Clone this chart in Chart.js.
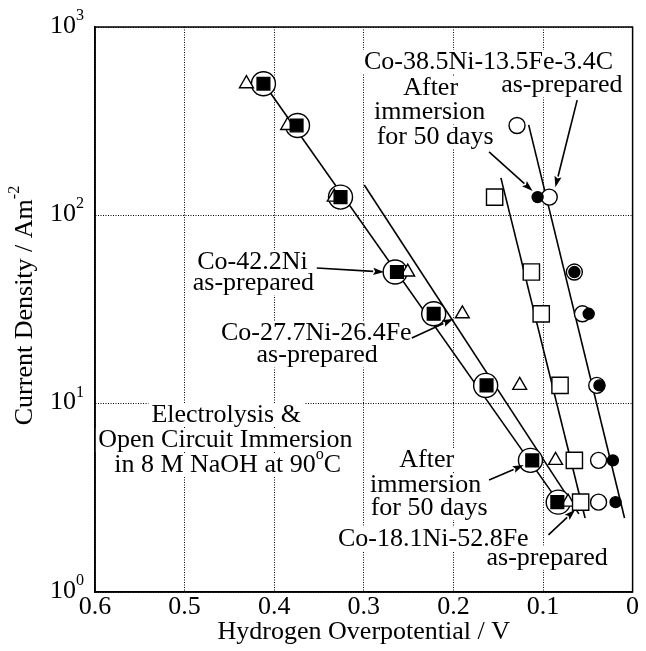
<!DOCTYPE html>
<html>
<head>
<meta charset="utf-8">
<script src="https://cdn.jsdelivr.net/npm/chart.js@4.4.1/dist/chart.umd.min.js"></script>
<style>
  html, body { margin: 0; padding: 0; background: #fff; }
</style>
</head>
<body>
<canvas id="tafel-chart" width="646" height="651"></canvas>
<script>
// Current density levels, A m^-2
const levels = [500, 300, 125, 50, 30, 12.5, 5, 3];

// Co-42.2Ni as-prepared (large open circles) / after 50 days immersion (filled squares)
const coNi42PrepX  = [0.412, 0.374, 0.326, 0.265, 0.222, 0.164, 0.114, 0.083];
const coNi42AfterX = [0.412, 0.375, 0.326, 0.263, 0.222, 0.163, 0.112, 0.084];

// Co-27.7Ni-26.4Fe as-prepared (open triangles)
const coNiFe27X = [0.431, 0.385, 0.333, 0.251, 0.190, 0.126, 0.086, 0.072];

// Co-18.1Ni-52.8Fe as-prepared (open squares)
const coNiFe18X = [0.154, 0.113, 0.102, 0.081, 0.065, 0.058];
const coNiFe18Y = [125, 50, 30, 12.5, 5, 3];

// Co-38.5Ni-13.5Fe-3.4C as-prepared (open circles) / after immersion (small filled circles)
const coNiFeCPrepX  = [0.129, 0.093, 0.065, 0.056, 0.040, 0.038, 0.038];
const coNiFeCPrepY  = [300, 125, 50, 30, 12.5, 5, 3];
const coNiFeCAfterX = [0.106, 0.065, 0.049, 0.037, 0.022, 0.019];
const coNiFeCAfterY = [125, 50, 30, 12.5, 5, 3];

// Tafel fit lines (two end points each)
const fitCoNiX    = [0.414, 0.079], fitCoNiY    = [520, 2.84];
const fitCoNiFeX  = [0.2995, 0.060], fitCoNiFeY = [145, 2.6];
const fitFe52X    = [0.147, 0.053], fitFe52Y    = [158, 2.47];
const fitCarbonX  = [0.116, 0.009], fitCarbonY  = [302, 2.47];

// axis tick labels
const xTicks = [0.6, 0.5, 0.4, 0.3, 0.2, 0.1, 0];
const yDecades = [1, 10, 100, 1000];

// annotation texts, anchored in data units (overpotential, current density)
const noteTexts = [
  { v: 0.1608, j: 652,  text: 'Co-38.5Ni-13.5Fe-3.4C' },
  { v: 0.079,  j: 490,  text: 'as-prepared' },
  { v: 0.2254, j: 474,  text: 'After' },
  { v: 0.2265, j: 354,  text: 'immersion' },
  { v: 0.2204, j: 261,  text: 'for 50 days' },
  { v: 0.4243, j: 56.5, text: 'Co-42.2Ni' },
  { v: 0.4232, j: 43.5, text: 'as-prepared' },
  { v: 0.353,  j: 23.7, text: 'Co-27.7Ni-26.4Fe' },
  { v: 0.352,  j: 18.0, text: 'as-prepared' },
  { v: 0.4536, j: 8.71, text: 'Electrolysis &' },
  { v: 0.4545, j: 6.41, text: 'Open Circuit Immersion' },
  { v: 0.452,  j: 4.72, text: 'in 8 M NaOH at 90^oC' },
  { v: 0.2298, j: 5.02, text: 'After' },
  { v: 0.2309, j: 3.70, text: 'immersion' },
  { v: 0.2271, j: 2.79, text: 'for 50 days' },
  { v: 0.2224, j: 1.91, text: 'Co-18.1Ni-52.8Fe' },
  { v: 0.0954, j: 1.52, text: 'as-prepared' }
];

const noteArrows = [
  { from: [0.1602, 217],  to: [0.1116, 134.6] },
  { from: [0.0619, 409],  to: [0.0862, 141] },
  { from: [0.3525, 52.5], to: [0.2773, 50.0] },
  { from: [0.2464, 22.3], to: [0.2000, 28.2] },
  { from: [0.1602, 3.93], to: [0.1215, 4.72] },
  { from: [0.0939, 2.01], to: [0.0641, 2.73] }
];

const FONT = '"Liberation Serif", "Times New Roman", serif';
const FS = 26;

function pts(xs, ys) {
  return xs.map((x, i) => ({ x: x, y: ys[i] }));
}

// split "text^sup" markup into parts
function parseRich(str) {
  const parts = [];
  const re = /\^(\S)/g;
  let last = 0, m;
  while ((m = re.exec(str)) !== null) {
    if (m.index > last) parts.push({ t: str.slice(last, m.index) });
    parts.push({ t: m[1], sup: true });
    last = m.index + m[0].length;
  }
  if (last < str.length) parts.push({ t: str.slice(last) });
  return parts;
}

function measureRich(ctx, parts, size) {
  let w = 0;
  parts.forEach(p => {
    ctx.font = (p.sup ? size * 0.62 : size) + 'px ' + FONT;
    p.w = ctx.measureText(p.t).width;
    w += p.w;
  });
  return w;
}

function drawRich(ctx, parts, x, y, size, align) {
  const w = measureRich(ctx, parts, size);
  let cx = align === 'right' ? x - w : (align === 'left' ? x : x - w / 2);
  ctx.textAlign = 'left';
  ctx.textBaseline = 'middle';
  parts.forEach(p => {
    ctx.font = (p.sup ? size * 0.62 : size) + 'px ' + FONT;
    ctx.fillText(p.t, cx, p.sup ? y - size * 0.4 : y);
    cx += p.w;
  });
  return w;
}

function drawArrow(ctx, x1, y1, x2, y2) {
  const ang = Math.atan2(y2 - y1, x2 - x1);
  const len = 11, half = 3.6;
  const bx = x2 - len * Math.cos(ang), by = y2 - len * Math.sin(ang);
  ctx.beginPath();
  ctx.moveTo(x1, y1);
  ctx.lineTo(bx, by);
  ctx.lineWidth = 1.6;
  ctx.strokeStyle = '#000';
  ctx.stroke();
  ctx.beginPath();
  ctx.moveTo(x2, y2);
  ctx.lineTo(bx - half * Math.sin(ang), by + half * Math.cos(ang));
  ctx.lineTo(bx + 2 * Math.cos(ang), by + 2 * Math.sin(ang));
  ctx.lineTo(bx + half * Math.sin(ang), by - half * Math.cos(ang));
  ctx.closePath();
  ctx.fillStyle = '#000';
  ctx.fill();
}

const annotationPlugin = {
  id: 'tafelNotes',
  beforeDatasetsDraw(chart) {
    const { ctx, scales: { x, y } } = chart;
    ctx.save();
    // white boxes first so the dotted grid stops at the labels
    noteTexts.forEach(n => {
      const px = x.getPixelForValue(n.v);
      const py = y.getPixelForValue(n.j);
      const w = measureRich(ctx, parseRich(n.text), FS);
      ctx.fillStyle = '#fff';
      ctx.fillRect(px - w / 2 - 3, py - 12, w + 6, 24);
    });
    ctx.fillStyle = '#000';
    noteTexts.forEach(n => {
      drawRich(ctx, parseRich(n.text), x.getPixelForValue(n.v), y.getPixelForValue(n.j), FS, 'center');
    });
    ctx.restore();
  },
  afterDraw(chart) {
    const { ctx, chartArea: a, scales: { x, y } } = chart;
    ctx.save();
    // frame
    ctx.strokeStyle = '#000';
    ctx.lineWidth = 1.5;
    ctx.strokeRect(a.left, a.top, a.right - a.left, a.bottom - a.top);

    // arrows
    noteArrows.forEach(ar => {
      drawArrow(ctx,
        x.getPixelForValue(ar.from[0]), y.getPixelForValue(ar.from[1]),
        x.getPixelForValue(ar.to[0]), y.getPixelForValue(ar.to[1]));
    });

    // y tick labels 10^n
    ctx.fillStyle = '#000';
    yDecades.forEach(d => {
      const py = y.getPixelForValue(d);
      const exp = Math.round(Math.log10(d));
      drawRich(ctx, [{ t: '10' }, { t: String(exp), sup: true }], a.left - 11, py - 1, FS, 'right');
    });

    // axis titles
    drawRich(ctx, [{ t: 'Hydrogen Overpotential / V' }], (a.left + a.right) / 2, 632, FS, 'center');
    ctx.translate(25, (a.top + a.bottom) / 2 - 4);
    ctx.rotate(-Math.PI / 2);
    drawRich(ctx, [{ t: 'Current Density / Am' }, { t: '-2', sup: true }], 0, 0, FS, 'center');
    ctx.restore();
  }
};

const markerBase = {
  showLine: false,
  pointBorderColor: '#000',
  pointBorderWidth: 1.4
};

const lineBase = {
  showLine: true,
  pointRadius: 0,
  borderColor: '#000',
  borderWidth: 1.6,
  order: 10
};

new Chart(document.getElementById('tafel-chart'), {
  type: 'scatter',
  data: {
    datasets: [
      Object.assign({ label: 'Co-42.2Ni after immersion', data: pts(coNi42AfterX, levels),
        pointStyle: 'rect', pointRadius: 9, pointBackgroundColor: '#000', order: 1 }, markerBase),
      Object.assign({ label: 'Co-38.5Ni-13.5Fe-3.4C after immersion', data: pts(coNiFeCAfterX, coNiFeCAfterY),
        pointStyle: 'circle', pointRadius: 5.5, pointBackgroundColor: '#000', order: 1 }, markerBase),
      Object.assign({ label: 'Co-38.5Ni-13.5Fe-3.4C as-prepared', data: pts(coNiFeCPrepX, coNiFeCPrepY),
        pointStyle: 'circle', pointRadius: 8, pointBackgroundColor: '#fff', order: 3 }, markerBase),
      Object.assign({ label: 'Co-18.1Ni-52.8Fe as-prepared', data: pts(coNiFe18X, coNiFe18Y),
        pointStyle: 'rect', pointRadius: 11.5, pointBackgroundColor: '#fff', order: 4 }, markerBase),
      Object.assign({ label: 'Co-27.7Ni-26.4Fe as-prepared', data: pts(coNiFe27X, levels),
        pointStyle: 'triangle', pointRadius: 8, pointBackgroundColor: '#fff', order: 4 }, markerBase),
      Object.assign({ label: 'Co-42.2Ni as-prepared', data: pts(coNi42PrepX, levels),
        pointStyle: 'circle', pointRadius: 12, pointBackgroundColor: '#fff', order: 5 }, markerBase),
      Object.assign({ label: 'fit Co-42.2Ni', data: pts(fitCoNiX, fitCoNiY) }, lineBase),
      Object.assign({ label: 'fit Co-27.7Ni-26.4Fe', data: pts(fitCoNiFeX, fitCoNiFeY) }, lineBase),
      Object.assign({ label: 'fit Co-18.1Ni-52.8Fe', data: pts(fitFe52X, fitFe52Y) }, lineBase),
      Object.assign({ label: 'fit Co-38.5Ni-13.5Fe-3.4C', data: pts(fitCarbonX, fitCarbonY) }, lineBase)
    ]
  },
  options: {
    responsive: false,
    animation: false,
    events: [],
    layout: { padding: { top: 27, right: 8, left: 0, bottom: 0 } },
    plugins: {
      legend: { display: false },
      tooltip: { enabled: false }
    },
    scales: {
      x: {
        type: 'linear',
        reverse: true,
        min: 0,
        max: 0.6,
        afterBuildTicks: (scale) => { scale.ticks = xTicks.map(v => ({ value: v })); },
        afterFit: (scale) => { scale.height = 59; },
        ticks: {
          color: '#000',
          padding: 0,
          maxRotation: 0,
          font: { family: FONT, size: FS },
          callback: (v) => String(Math.round(v * 10) / 10)
        },
        grid: { color: '#000', lineWidth: 1, drawTicks: false },
        border: { display: true, color: '#000', width: 1.5, dash: [1, 1.5] }
      },
      y: {
        type: 'logarithmic',
        min: 1,
        max: 1000,
        afterBuildTicks: (scale) => { scale.ticks = yDecades.map(v => ({ value: v })); },
        afterFit: (scale) => { scale.width = 95; },
        ticks: { display: false },
        grid: { color: '#000', lineWidth: 1, drawTicks: false },
        border: { display: true, color: '#000', width: 1.5, dash: [1, 1.5] }
      }
    }
  },
  plugins: [annotationPlugin]
});
</script>
</body>
</html>
